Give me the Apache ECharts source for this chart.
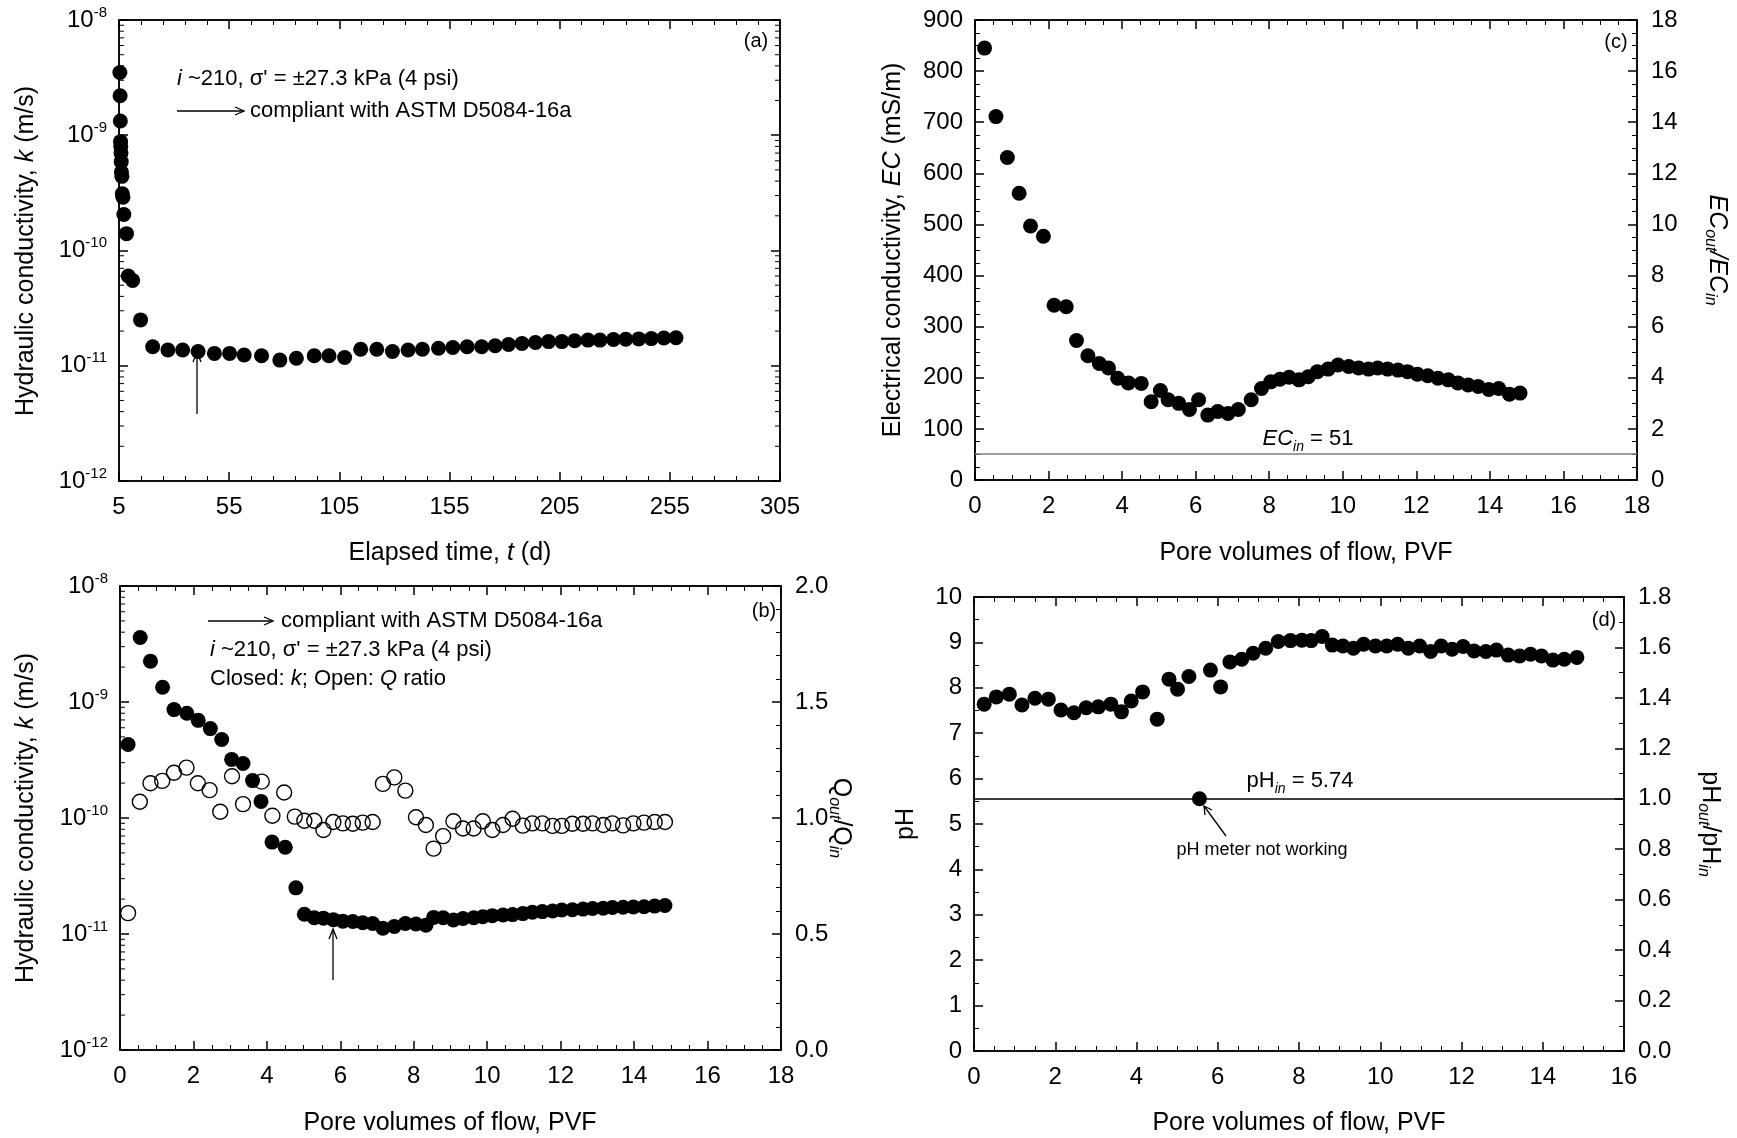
<!DOCTYPE html>
<html><head><meta charset="utf-8">
<script src="https://cdn.jsdelivr.net/npm/echarts@6/dist/echarts.min.js"></script>
<style>html,body{margin:0;padding:0;background:#fff}#c{width:1737px;height:1138px}</style>
</head><body><div id="c"></div>
<script>
// ---------- Panel (a): k vs elapsed time ----------
const timeA = [5.4,5.5,5.6,5.7,5.8,5.9,6.0,6.1,6.3,6.5,6.8,7.2,8.4,9.2,11.2,14.8,
  20.3,27.2,33.9,40.9,48.3,55.2,61.8,69.7,78,85.5,93.6,100.3,107.4,114.7,122,129.1,136.2,142.7,150,156.5,
  163,169.6,175.7,181.8,187.9,194,200,206,211.8,217.8,223.3,229.4,235,240.9,246.6,252.3,257.8];
const kA = [3.5e-9,2.2e-9,1.33e-9,8.8e-10,8.0e-10,7.0e-10,5.9e-10,4.8e-10,4.4e-10,3.1e-10,2.9e-10,2.05e-10,1.4e-10,6.0e-11,5.5e-11,2.5e-11,
  1.46e-11,1.37e-11,1.37e-11,1.33e-11,1.28e-11,1.28e-11,1.24e-11,1.22e-11,1.12e-11,1.16e-11,1.22e-11,1.22e-11,1.18e-11,1.39e-11,1.39e-11,1.33e-11,1.37e-11,1.39e-11,1.42e-11,1.44e-11,
  1.46e-11,1.46e-11,1.49e-11,1.53e-11,1.56e-11,1.59e-11,1.62e-11,1.62e-11,1.65e-11,1.67e-11,1.67e-11,1.69e-11,1.70e-11,1.71e-11,1.72e-11,1.74e-11,1.75e-11];
const timeTicksA = [5,55,105,155,205,255,305];

// ---------- Panel (b): k and Q ratio vs PVF ----------
const pvfBk = [0.22,0.55,0.83,1.16,1.47,1.82,2.13,2.46,2.77,3.04,3.35,3.61,3.84,4.14,4.5,4.79,
  5.02,5.29,5.54,5.81,6.07,6.34,6.61,6.88,7.16,7.47,7.77,8.06,8.33,8.54,8.80,9.08,9.34,9.63,9.88,10.14,10.43,10.69,10.97,
  11.23,11.50,11.78,12.03,12.32,12.61,12.87,13.16,13.41,13.70,13.98,14.27,14.56,14.84];
const kB = [4.3e-10,3.6e-9,2.25e-9,1.34e-9,8.6e-10,8.0e-10,6.95e-10,5.9e-10,4.75e-10,3.2e-10,2.95e-10,2.1e-10,1.39e-10,6.2e-11,5.6e-11,2.5e-11,
  1.48e-11,1.38e-11,1.37e-11,1.33e-11,1.29e-11,1.28e-11,1.25e-11,1.23e-11,1.12e-11,1.16e-11,1.23e-11,1.22e-11,1.19e-11,1.39e-11,1.38e-11,1.32e-11,1.36e-11,1.38e-11,1.41e-11,1.44e-11,1.46e-11,1.47e-11,1.50e-11,
  1.54e-11,1.56e-11,1.58e-11,1.61e-11,1.62e-11,1.64e-11,1.66e-11,1.67e-11,1.69e-11,1.70e-11,1.71e-11,1.72e-11,1.74e-11,1.76e-11];
const pvfBq = [0.22,0.54,0.83,1.15,1.47,1.81,2.12,2.44,2.73,3.05,3.35,3.86,4.15,4.47,4.76,
  5.02,5.29,5.54,5.81,6.07,6.34,6.61,6.88,7.16,7.47,7.77,8.06,8.33,8.54,8.80,9.08,9.34,9.63,9.88,10.14,10.43,10.69,10.97,
  11.23,11.50,11.78,12.03,12.32,12.61,12.87,13.16,13.41,13.70,13.98,14.27,14.56,14.84];
const qRatioB = [0.59,1.07,1.15,1.16,1.195,1.217,1.15,1.12,1.027,1.18,1.06,1.157,1.01,1.11,1.006,
  0.988,0.988,0.948,0.983,0.977,0.975,0.98,0.983,1.147,1.175,1.118,1.003,0.97,0.868,0.922,0.986,0.955,0.955,0.986,0.948,0.97,0.997,0.967,
  0.977,0.977,0.966,0.966,0.975,0.975,0.977,0.97,0.977,0.968,0.977,0.98,0.983,0.983];

// ---------- Panel (c): EC vs PVF ----------
const pvfC = [0.26,0.57,0.88,1.2,1.51,1.86,2.15,2.48,2.76,3.07,3.38,3.63,3.88,4.17,4.52,4.79,5.04,5.25,5.54,5.83,
  6.08,6.33,6.6,6.88,7.16,7.51,7.79,8.04,8.29,8.54,8.81,9.06,9.31,9.6,9.87,10.16,10.43,10.7,10.95,11.22,
  11.5,11.76,12.03,12.31,12.59,12.87,13.13,13.41,13.68,13.97,14.24,14.53,14.82];
const ecC = [845,711,631,561,497,477,342,339,273,243,228,219,199,190,189,153,175,157,150,138,
  157,127,134,130,138,157,179,192,197,201,196,202,212,217,225,222,219,217,219,217,
  215,212,207,204,199,196,190,186,183,177,179,168,170];
const ecIn = 51;

// ---------- Panel (d): pH vs PVF ----------
const pvfD = [0.25,0.55,0.87,1.18,1.5,1.83,2.14,2.46,2.76,3.06,3.37,3.63,3.87,4.15,4.51,4.8,5.01,5.29,5.82,6.07,
  6.3,6.59,6.87,7.18,7.49,7.79,8.07,8.3,8.57,8.82,9.08,9.34,9.59,9.88,10.16,10.43,10.69,10.97,11.24,11.5,
  11.77,12.04,12.31,12.6,12.86,13.15,13.43,13.7,13.97,14.25,14.53,14.84];
const pHD = [7.64,7.80,7.86,7.62,7.77,7.75,7.51,7.45,7.56,7.58,7.64,7.47,7.71,7.91,7.31,8.19,7.97,8.25,8.39,8.02,
  8.57,8.63,8.76,8.87,9.02,9.04,9.05,9.04,9.13,8.94,8.92,8.87,8.96,8.92,8.92,8.96,8.87,8.92,8.80,8.92,
  8.85,8.91,8.81,8.80,8.83,8.72,8.70,8.74,8.70,8.61,8.63,8.67];
const pvfBrokenMeter = [5.55];
const pHRatioBrokenMeter = [1.0];
const pHRatioInLine = 1.0;

// ---------- rendering ----------
const FONT = 'Liberation Sans';
const zip = (a, b) => a.map((v, i) => [v, b[i]]);
const TICK = 24, TITLE = 25, ANN = 22;

const supRich = {
  b: {fontFamily: FONT, fontSize: TICK, color: '#000', lineHeight: 30},
  s: {fontFamily: FONT, fontSize: 15, color: '#000', lineHeight: 14, verticalAlign: 'top'}
};
function logLabel(v) { const e = Math.round(Math.log10(v)); return '{b|10}{s|' + e + '}'; }

function axisCommon(grid, pos, showLabels, fmt, margin) {
  return {
    gridIndex: grid, position: pos,
    axisLine: {show: true, onZero: false, lineStyle: {color: '#000', width: 1.5}},
    axisTick: {show: true, inside: true, length: 9, lineStyle: {color: '#000', width: 1.5}},
    axisLabel: {show: showLabels, color: '#000', fontFamily: FONT, fontSize: TICK, margin: margin, formatter: fmt, rich: supRich},
    splitLine: {show: false}, minorSplitLine: {show: false}
  };
}
function valAxis(grid, pos, min, max, interval, minorSplit, showLabels, fmt, margin) {
  return Object.assign(axisCommon(grid, pos, showLabels, fmt, margin === undefined ? 12 : margin), {
    type: 'value', min: min, max: max, interval: interval,
    minorTick: {show: true, splitNumber: minorSplit, length: 5, lineStyle: {color: '#000', width: 1}}
  });
}
function logAxis(grid, pos, showLabels) {
  return Object.assign(axisCommon(grid, pos, showLabels, logLabel, 12), {
    type: 'log', logBase: 10, min: 1e-12, max: 1e-8, splitNumber: 4
  });
}
const f0 = v => String(v), f1 = v => v.toFixed(1);

// minor log ticks (2..9 x each decade) drawn through the axis scale
function logMinorSeries(xi, yi, xmin, xmax, both) {
  const data = [];
  for (let e = -12; e < -8; e++) for (let m = 2; m <= 9; m++) data.push([xmin, m * Math.pow(10, e)]);
  return {
    type: 'custom', xAxisIndex: xi, yAxisIndex: yi, silent: true, clip: false, z: 5, data: data,
    renderItem: function (params, api) {
      const p = api.coord([xmin, api.value(1)]);
      const ch = [{type: 'line', shape: {x1: p[0], y1: p[1], x2: p[0] + 5, y2: p[1]}, style: {stroke: '#000', lineWidth: 1}}];
      if (both) {
        const q = api.coord([xmax, api.value(1)]);
        ch.push({type: 'line', shape: {x1: q[0], y1: q[1], x2: q[0] - 5, y2: q[1]}, style: {stroke: '#000', lineWidth: 1}});
      }
      return {type: 'group', children: ch};
    }
  };
}

const closed = {symbol: 'circle', symbolSize: 15, itemStyle: {color: '#000', opacity: 1}, emphasis: {disabled: true}};

const textRich = (size) => ({
  n: {fontFamily: FONT, fontSize: size, color: '#000', lineHeight: 30},
  i: {fontFamily: FONT, fontSize: size, color: '#000', fontStyle: 'italic', lineHeight: 30},
  sub: {fontFamily: FONT, fontSize: Math.round(size * 0.62), color: '#000', fontStyle: 'italic', lineHeight: 14, verticalAlign: 'bottom'}
});
function txt(x, y, text, size, align, rot) {
  return {type: 'text', x: x, y: y, rotation: rot || 0, silent: true, z: 50,
    style: {text: text, fontFamily: FONT, fontSize: size, fill: '#000', align: align || 'center', verticalAlign: 'middle', rich: textRich(size)}};
}
function seg(x1, y1, x2, y2, w) {
  return {type: 'line', silent: true, z: 50, shape: {x1: x1, y1: y1, x2: x2, y2: y2}, style: {stroke: '#000', lineWidth: w || 1.3}};
}
function poly(pts, w) {
  return {type: 'polyline', silent: true, z: 50, shape: {points: pts}, style: {stroke: '#000', fill: null, lineWidth: w || 1.3}};
}

const option = {
  animation: false,
  backgroundColor: '#fff',
  grid: [
    {left: 119, top: 20, width: 661, height: 461, show: true, borderColor: '#000', borderWidth: 1.5},
    {left: 120, top: 586, width: 661, height: 464, show: true, borderColor: '#000', borderWidth: 1.5},
    {left: 975, top: 20, width: 662, height: 460, show: true, borderColor: '#000', borderWidth: 1.5},
    {left: 974, top: 597, width: 650, height: 454, show: true, borderColor: '#000', borderWidth: 1.5}
  ],
  xAxis: [
    valAxis(0, 'bottom', timeTicksA[0], timeTicksA[timeTicksA.length - 1], 50, 5, true, f0, 14),
    valAxis(0, 'top', timeTicksA[0], timeTicksA[timeTicksA.length - 1], 50, 5, false, f0),
    valAxis(1, 'bottom', 0, 18, 2, 4, true, f0, 14),
    valAxis(1, 'top', 0, 18, 2, 4, false, f0),
    valAxis(2, 'bottom', 0, 18, 2, 4, true, f0, 14),
    valAxis(2, 'top', 0, 18, 2, 4, false, f0),
    valAxis(3, 'bottom', 0, 16, 2, 4, true, f0, 14),
    valAxis(3, 'top', 0, 16, 2, 4, false, f0)
  ],
  yAxis: [
    logAxis(0, 'left', true),
    logAxis(0, 'right', false),
    logAxis(1, 'left', true),
    valAxis(1, 'right', 0, 2, 0.5, 5, true, f1, 14),
    valAxis(2, 'left', 0, 900, 100, 4, true, f0, 12),
    valAxis(2, 'right', 0, 18, 2, 4, true, f0, 14),
    valAxis(3, 'left', 0, 10, 1, 2, true, f0, 12),
    valAxis(3, 'right', 0, 1.8, 0.2, 2, true, f1, 14)
  ],
  series: [
    logMinorSeries(0, 0, timeTicksA[0], timeTicksA[timeTicksA.length - 1], true),
    logMinorSeries(2, 2, 0, 18, false),
    Object.assign({type: 'scatter', xAxisIndex: 0, yAxisIndex: 0, z: 10, data: zip(timeA, kA)}, closed),
    {type: 'scatter', xAxisIndex: 2, yAxisIndex: 3, z: 9, data: zip(pvfBq, qRatioB), symbol: 'circle', symbolSize: 15,
      emphasis: {disabled: true},
      itemStyle: {color: 'rgba(0,0,0,0)', borderColor: '#000', borderWidth: 1.4, opacity: 1}},
    Object.assign({type: 'scatter', xAxisIndex: 2, yAxisIndex: 2, z: 10, data: zip(pvfBk, kB)}, closed),
    Object.assign({type: 'scatter', xAxisIndex: 4, yAxisIndex: 4, z: 10, data: zip(pvfC, ecC),
      markLine: {silent: true, symbol: 'none', label: {show: false}, lineStyle: {color: '#7f7f7f', width: 1.5, type: 'solid'}, data: [{yAxis: ecIn}]}}, closed),
    Object.assign({type: 'scatter', xAxisIndex: 6, yAxisIndex: 6, z: 10, data: zip(pvfD, pHD)}, closed),
    Object.assign({type: 'scatter', xAxisIndex: 6, yAxisIndex: 7, z: 10, data: zip(pvfBrokenMeter, pHRatioBrokenMeter),
      markLine: {silent: true, symbol: 'none', label: {show: false}, lineStyle: {color: '#000', width: 1.5, type: 'solid'}, data: [{yAxis: pHRatioInLine}]}}, closed)
  ],
  graphic: [
    // axis titles
    txt(26, 251, '{n|Hydraulic conductivity, }{i|k}{n| (m/s)}', TITLE, 'center', Math.PI / 2),
    txt(450, 553, '{n|Elapsed time, }{i|t}{n| (d)}', TITLE),
    txt(26, 818, '{n|Hydraulic conductivity, }{i|k}{n| (m/s)}', TITLE, 'center', Math.PI / 2),
    txt(450, 1123, '{n|Pore volumes of flow, PVF}', TITLE),
    txt(841, 818, '{n|Q}{sub|out}{n|/Q}{sub|in}', TITLE, 'center', -Math.PI / 2),
    txt(893, 250, '{n|Electrical conductivity, }{i|EC}{n| (mS/m)}', TITLE, 'center', Math.PI / 2),
    txt(1717, 250, '{i|EC}{sub|out}{i|/EC}{sub|in}', TITLE, 'center', -Math.PI / 2),
    txt(1306, 553, '{n|Pore volumes of flow, PVF}', TITLE),
    txt(906, 824, '{n|pH}', TITLE, 'center', Math.PI / 2),
    txt(1710, 824, '{n|pH}{sub|out}{n|/pH}{sub|in}', TITLE, 'center', -Math.PI / 2),
    txt(1299, 1123, '{n|Pore volumes of flow, PVF}', TITLE),
    // panel (a) annotations
    txt(756, 41, '{n|(a)}', 20),
    txt(177, 79, '{i|i}{n| ~210, σ\' = ±27.3 kPa (4 psi)}', ANN, 'left'),
    txt(250, 111, '{n|compliant with ASTM D5084-16a}', ANN, 'left'),
    seg(177, 111, 244, 111), poly([[235, 107], [244, 111], [235, 115]]),
    seg(197, 414, 197, 352), poly([[193, 362], [197, 352], [201, 362]]),
    // panel (b) annotations
    txt(764, 611, '{n|(b)}', 20),
    seg(208, 621, 273, 621), poly([[264, 617], [273, 621], [264, 625]]),
    txt(281, 621, '{n|compliant with ASTM D5084-16a}', ANN, 'left'),
    txt(210, 650, '{i|i}{n| ~210, σ\' = ±27.3 kPa (4 psi)}', ANN, 'left'),
    txt(210, 679, '{n|Closed: }{i|k}{n|; Open: }{i|Q}{n| ratio}', ANN, 'left'),
    seg(333, 980, 333, 929), poly([[329, 939], [333, 929], [337, 939]]),
    // panel (c) annotations
    txt(1616, 42, '{n|(c)}', 20),
    txt(1308, 439, '{i|EC}{sub|in}{n| = 51}', ANN),
    // panel (d) annotations
    txt(1604, 620, '{n|(d)}', 20),
    txt(1300, 781, '{n|pH}{sub|in}{n| = 5.74}', ANN),
    txt(1262, 850, '{n|pH meter not working}', 18),
    seg(1226, 836, 1204, 806), poly([[1212, 810], [1204, 806], [1205, 815]])
  ]
};

const chart = echarts.init(document.getElementById('c'), null, {renderer: 'canvas'});
chart.setOption(option);
</script></body></html>
